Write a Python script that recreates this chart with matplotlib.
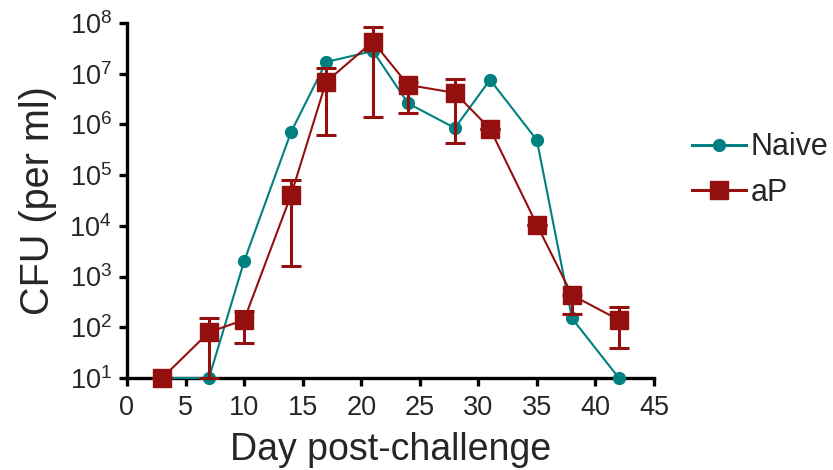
import matplotlib
matplotlib.use("Agg")
import matplotlib.pyplot as plt
from matplotlib.lines import Line2D
import numpy as np

plt.rcParams['font.family'] = ['Liberation Sans', 'DejaVu Sans']
plt.rcParams['mathtext.fontset'] = 'custom'
plt.rcParams['mathtext.rm'] = 'Liberation Sans'
plt.rcParams['mathtext.it'] = 'Liberation Sans'

# Data
naive_days = [3, 7, 10, 14, 17, 21, 24, 28, 31, 35, 38, 42]
naive_cfu = [10, 10, 2000, 7.0e5, 1.7e7, 2.8e7, 2.6e6, 8.5e5, 7.6e6, 4.9e5, 150, 10]

ap_days = [3, 7, 10, 14, 17, 21, 24, 28, 31, 35, 38, 42]
ap_cfu = [10, 80, 140, 4.0e4, 6.9e6, 4.3e7, 6.0e6, 4.2e6, 8.2e5, 1.05e4, 430, 140]
ap_lower = [10, 10, 49, 1.6e3, 6.2e5, 1.4e6, 1.7e6, 4.3e5, 8.2e5, 1.05e4, 180, 39]
ap_upper = [10, 150, 210, 8.0e4, 1.3e7, 8.3e7, 7.0e6, 8.0e6, 8.2e5, 1.05e4, 430, 250]

xticks = [0, 5, 10, 15, 20, 25, 30, 35, 40, 45]
yticks = [1e1, 1e2, 1e3, 1e4, 1e5, 1e6, 1e7, 1e8]
ytick_labels = [r'$10^{%d}$' % int(np.log10(v)) for v in yticks]

teal = '#008080'
red = '#94100F'
txt = '#262626'

fig = plt.figure(figsize=(8.33, 4.70), dpi=100)
ax = fig.add_axes([127/833, 1 - 378/470, (654 - 127)/833, (378 - 23)/470])

ax.plot(naive_days, naive_cfu, color=teal, lw=1.5, marker='o', ms=8.5,
        mec=teal, mfc=teal, clip_on=False, zorder=3, label='Naive')

ap_cfu_a = np.array(ap_cfu)
yerr = np.vstack([ap_cfu_a - np.array(ap_lower), np.array(ap_upper) - ap_cfu_a])
ax.errorbar(ap_days, ap_cfu, yerr=yerr, color=red, lw=1.5, marker='s', ms=12.5,
            mec=red, mfc=red, ecolor=red, elinewidth=2.2, capsize=7, capthick=2.2,
            clip_on=False, zorder=4, label='aP')

ax.set_yscale('log')
ax.set_xlim(0, 45)
ax.set_ylim(10, 1e8)
ax.set_xticks(xticks)
ax.set_xticklabels([str(t) for t in xticks])
ax.set_yticks(yticks)
ax.set_yticklabels(ytick_labels)
ax.minorticks_off()

for s in ['top', 'right']:
    ax.spines[s].set_visible(False)
for s in ['left', 'bottom']:
    ax.spines[s].set_linewidth(2.4)
    ax.spines[s].set_color('black')

ax.tick_params(axis='both', which='major', direction='out', length=6, width=2.4,
               color='black', labelsize=19.5, labelcolor=txt)
ax.tick_params(axis='x', pad=6)
ax.tick_params(axis='y', pad=5)

ax.set_xlabel('Day post-challenge', fontsize=27, color=txt, labelpad=8)
ax.set_ylabel('CFU (per ml)', fontsize=28.5, color=txt, labelpad=9)

h1 = Line2D([], [], color=teal, lw=2.2, marker='o', ms=8.5, mfc=teal, mec=teal)
h2 = Line2D([], [], color=red, lw=2.2, marker='s', ms=12.5, mfc=red, mec=red)
leg = fig.legend([h1, h2], ['Naive', 'aP'], loc='center left',
                 bbox_to_anchor=(680/833, 1 - 170/470), frameon=False,
                 fontsize=22, handlelength=1.75, handletextpad=0.15, labelspacing=0.5,
                 borderaxespad=0, labelcolor=txt)

fig.savefig('out.png', dpi=100)
